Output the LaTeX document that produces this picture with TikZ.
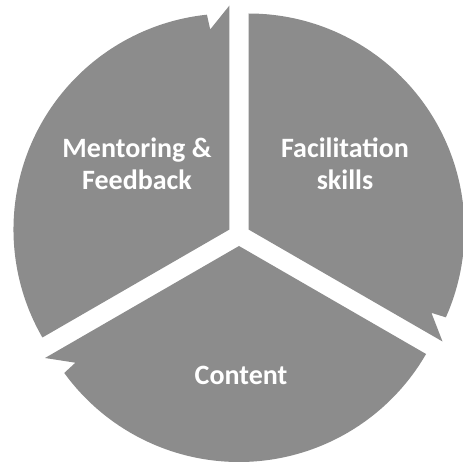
\documentclass[tikz,border=0pt]{standalone}
\usepackage{fontspec}
\setmainfont{Carlito}
\begin{document}
\begin{tikzpicture}[x=1pt, y=1pt,
    segment/.style={fill=black!45, draw=none},
    seglabel/.style={text=white, font=\bfseries\fontsize{28}{32}\selectfont, align=center}]
  \useasboundingbox (0,0) rectangle (463,464);
  % three pulled-apart segments, each with a barb at its clockwise end
  \foreach \a [evaluate=\a as \e using \a-120] in {90,210,330}
    \fill[segment, shift={(239,229)}, shift={(\a-60:11)}]
      (0,0) -- (\a:216) arc[start angle=\a, end angle=\e+6, radius=216]
      -- (\e+5.5:201) -- (\e:224) -- cycle;
  \node[seglabel] (mentor) at (137,300) {Mentoring \&\\Feedback};
  \node[seglabel] (facil) at (345,300) {Facilitation\\skills};
  \node[seglabel] (content) at (241,89) {Content};
\end{tikzpicture}
\end{document}
